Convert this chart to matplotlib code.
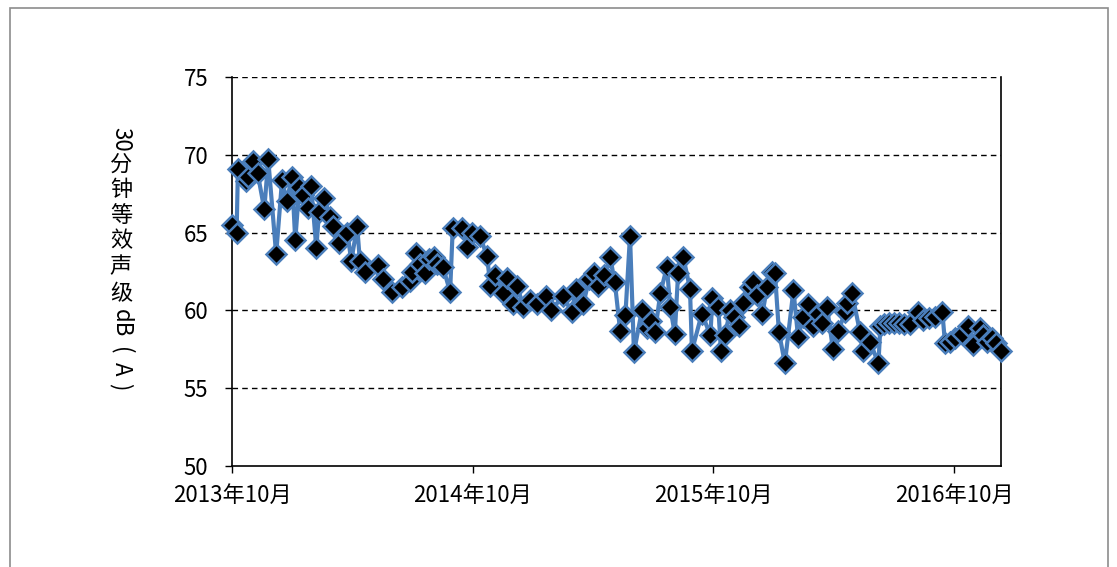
import matplotlib
matplotlib.use("Agg")
import matplotlib.pyplot as plt
import matplotlib.patches as patches
import pandas as pd

# data
dates = [
    "2013-10-01", "2013-10-08", "2013-10-10", "2013-10-22", "2013-10-25", "2013-11-02",
    "2013-11-09", "2013-11-19", "2013-11-25", "2013-12-07", "2013-12-16", "2013-12-23",
    "2013-12-31", "2014-01-05", "2014-01-11", "2014-01-17", "2014-01-24", "2014-01-29",
    "2014-02-06", "2014-02-10", "2014-02-18", "2014-02-27", "2014-03-03", "2014-03-12",
    "2014-03-25", "2014-03-31", "2014-04-09", "2014-04-13", "2014-04-21", "2014-05-11",
    "2014-05-18", "2014-06-01", "2014-06-16", "2014-06-28", "2014-07-01", "2014-07-07",
    "2014-07-13", "2014-07-21", "2014-07-27", "2014-08-04", "2014-08-08", "2014-08-17",
    "2014-08-28", "2014-09-01", "2014-09-15", "2014-09-23", "2014-09-30", "2014-10-12",
    "2014-10-23", "2014-10-28", "2014-11-04", "2014-11-16", "2014-11-22", "2014-12-02",
    "2014-12-08", "2014-12-17", "2014-12-27", "2015-01-07", "2015-01-21", "2015-01-28",
    "2015-02-15", "2015-03-01", "2015-03-07", "2015-03-18", "2015-03-27", "2015-04-04",
    "2015-04-10", "2015-04-19", "2015-04-28", "2015-05-05", "2015-05-13", "2015-05-21",
    "2015-05-28", "2015-06-03", "2015-06-15", "2015-06-23", "2015-06-29", "2015-07-05",
    "2015-07-13", "2015-07-23", "2015-07-28", "2015-08-04", "2015-08-09", "2015-08-17",
    "2015-08-27", "2015-08-30", "2015-09-14", "2015-09-27", "2015-09-30", "2015-10-09",
    "2015-10-13", "2015-10-19", "2015-10-27", "2015-11-02", "2015-11-10", "2015-11-16",
    "2015-11-26", "2015-12-01", "2015-12-07", "2015-12-15", "2015-12-22", "2015-12-30",
    "2016-01-03", "2016-01-09", "2016-01-18", "2016-01-31", "2016-02-07", "2016-02-15",
    "2016-02-22", "2016-03-01", "2016-03-09", "2016-03-15", "2016-03-22", "2016-03-31",
    "2016-04-08", "2016-04-19", "2016-04-22", "2016-04-29", "2016-05-11", "2016-05-16",
    "2016-05-26", "2016-06-08", "2016-06-11", "2016-06-17", "2016-06-24", "2016-07-02",
    "2016-07-09", "2016-07-17", "2016-07-26", "2016-08-07", "2016-08-15", "2016-08-24",
    "2016-09-02", "2016-09-13", "2016-09-17", "2016-09-25", "2016-10-02", "2016-10-13",
    "2016-10-22", "2016-10-30", "2016-11-09", "2016-11-14", "2016-11-20", "2016-11-28",
    "2016-12-04", "2016-12-11",
]
values = [
    65.5, 65.0, 69.1, 68.3, 68.6, 69.6,
    68.8, 66.5, 69.7, 63.6, 68.4, 67.0,
    68.6, 64.5, 67.9, 67.4, 66.6, 68.0,
    64.0, 66.3, 67.2, 66.0, 65.4, 64.3,
    65.0, 63.2, 65.4, 63.2, 62.5, 62.9,
    62.0, 61.2, 61.5, 61.9, 62.5, 63.7,
    63.0, 62.4, 63.3, 63.4, 63.0, 62.8,
    61.2, 65.3, 65.3, 64.1, 65.0, 64.8,
    63.5, 61.6, 62.3, 61.1, 62.1, 60.4,
    61.6, 60.2, 60.7, 60.4, 60.9, 60.0,
    60.9, 59.9, 61.4, 60.4, 62.0, 62.4,
    61.6, 62.3, 63.4, 61.8, 58.7, 59.7,
    64.8, 57.3, 60.0, 58.9, 59.3, 58.6,
    61.1, 62.8, 60.2, 58.5, 62.4, 63.4,
    61.4, 57.4, 59.8, 58.4, 60.8, 60.2,
    57.4, 58.4, 60.0, 59.6, 59.0, 60.5,
    61.5, 61.8, 61.0, 59.8, 61.5, 62.5,
    62.4, 58.6, 56.6, 61.3, 58.3, 59.6,
    60.4, 59.0, 59.8, 59.2, 60.2, 57.5,
    58.7, 59.9, 60.5, 61.1, 58.6, 57.4,
    58.0, 56.6, 59.0, 59.1, 59.2, 59.2,
    59.2, 59.1, 59.1, 59.9, 59.4, 59.5,
    59.6, 59.9, 57.9, 58.0, 58.2, 58.5,
    59.0, 57.8, 58.9, 58.4, 58.0, 58.2,
    57.9, 57.4,
]
tick_dates = ["2013-10-01", "2014-10-01", "2015-10-01", "2016-10-01"]
tick_labels = ["2013年10月", "2014年10月", "2015年10月", "2016年10月"]
y_ticks = [50, 55, 60, 65, 70, 75]
ylabel_parts = ["30", "分", "钟", "等", "效", "声", "级", "dB", "(", "A", ")"]

plt.rcParams["font.family"] = ["Noto Sans CJK SC", "DejaVu Sans"]

W, H = 1117, 567
fig = plt.figure(figsize=(W / 100, H / 100), dpi=100)
ax = fig.add_axes([232 / W, 1 - 466 / H, (1001 - 232) / W, (466 - 77) / H])

x = pd.to_datetime(dates)
blue = "#4A7EBB"
ax.plot(x, values, color=blue, linewidth=3, marker="D", markersize=10,
        markerfacecolor="black", markeredgecolor=blue, markeredgewidth=1.8,
        clip_on=False, zorder=3)

ax.set_xlim(pd.Timestamp("2013-10-01"), pd.Timestamp("2016-12-11"))
ax.set_ylim(50, 75)
ax.set_yticks(y_ticks)
ax.set_xticks(pd.to_datetime(tick_dates))
ax.set_xticklabels(tick_labels)
ax.tick_params(axis="both", direction="out", length=5, width=1, labelsize=16, colors="black")
ax.tick_params(axis="y", pad=12)
ax.tick_params(axis="x", pad=8)

for v in y_ticks[1:]:
    ax.axhline(v, color="black", linestyle=(0, (4, 3)), linewidth=1, zorder=1)

ax.spines["top"].set_visible(False)
for s in ["left", "bottom", "right"]:
    ax.spines[s].set_color("black")
    ax.spines[s].set_linewidth(1.2)

# vertical axis title: latin parts turned, CJK upright
ycenters = [139, 164, 190, 215, 241, 267, 294, 323, 351, 369, 387]
for part, yc in zip(ylabel_parts, ycenters):
    rot = 0 if part in "分钟等效声级" else -90
    fig.text(121 / W, 1 - yc / H, part, rotation=rot, ha="center", va="center",
             fontsize=16, color="black")

# outer chart border
fig.patches.append(patches.Rectangle((10 / W, -0.02), (1108 - 10) / W, 1 - 8 / H + 0.02,
                                     transform=fig.transFigure, fill=False,
                                     edgecolor="#8C8C8C", linewidth=1.2))

fig.savefig("out.png", dpi=100)
